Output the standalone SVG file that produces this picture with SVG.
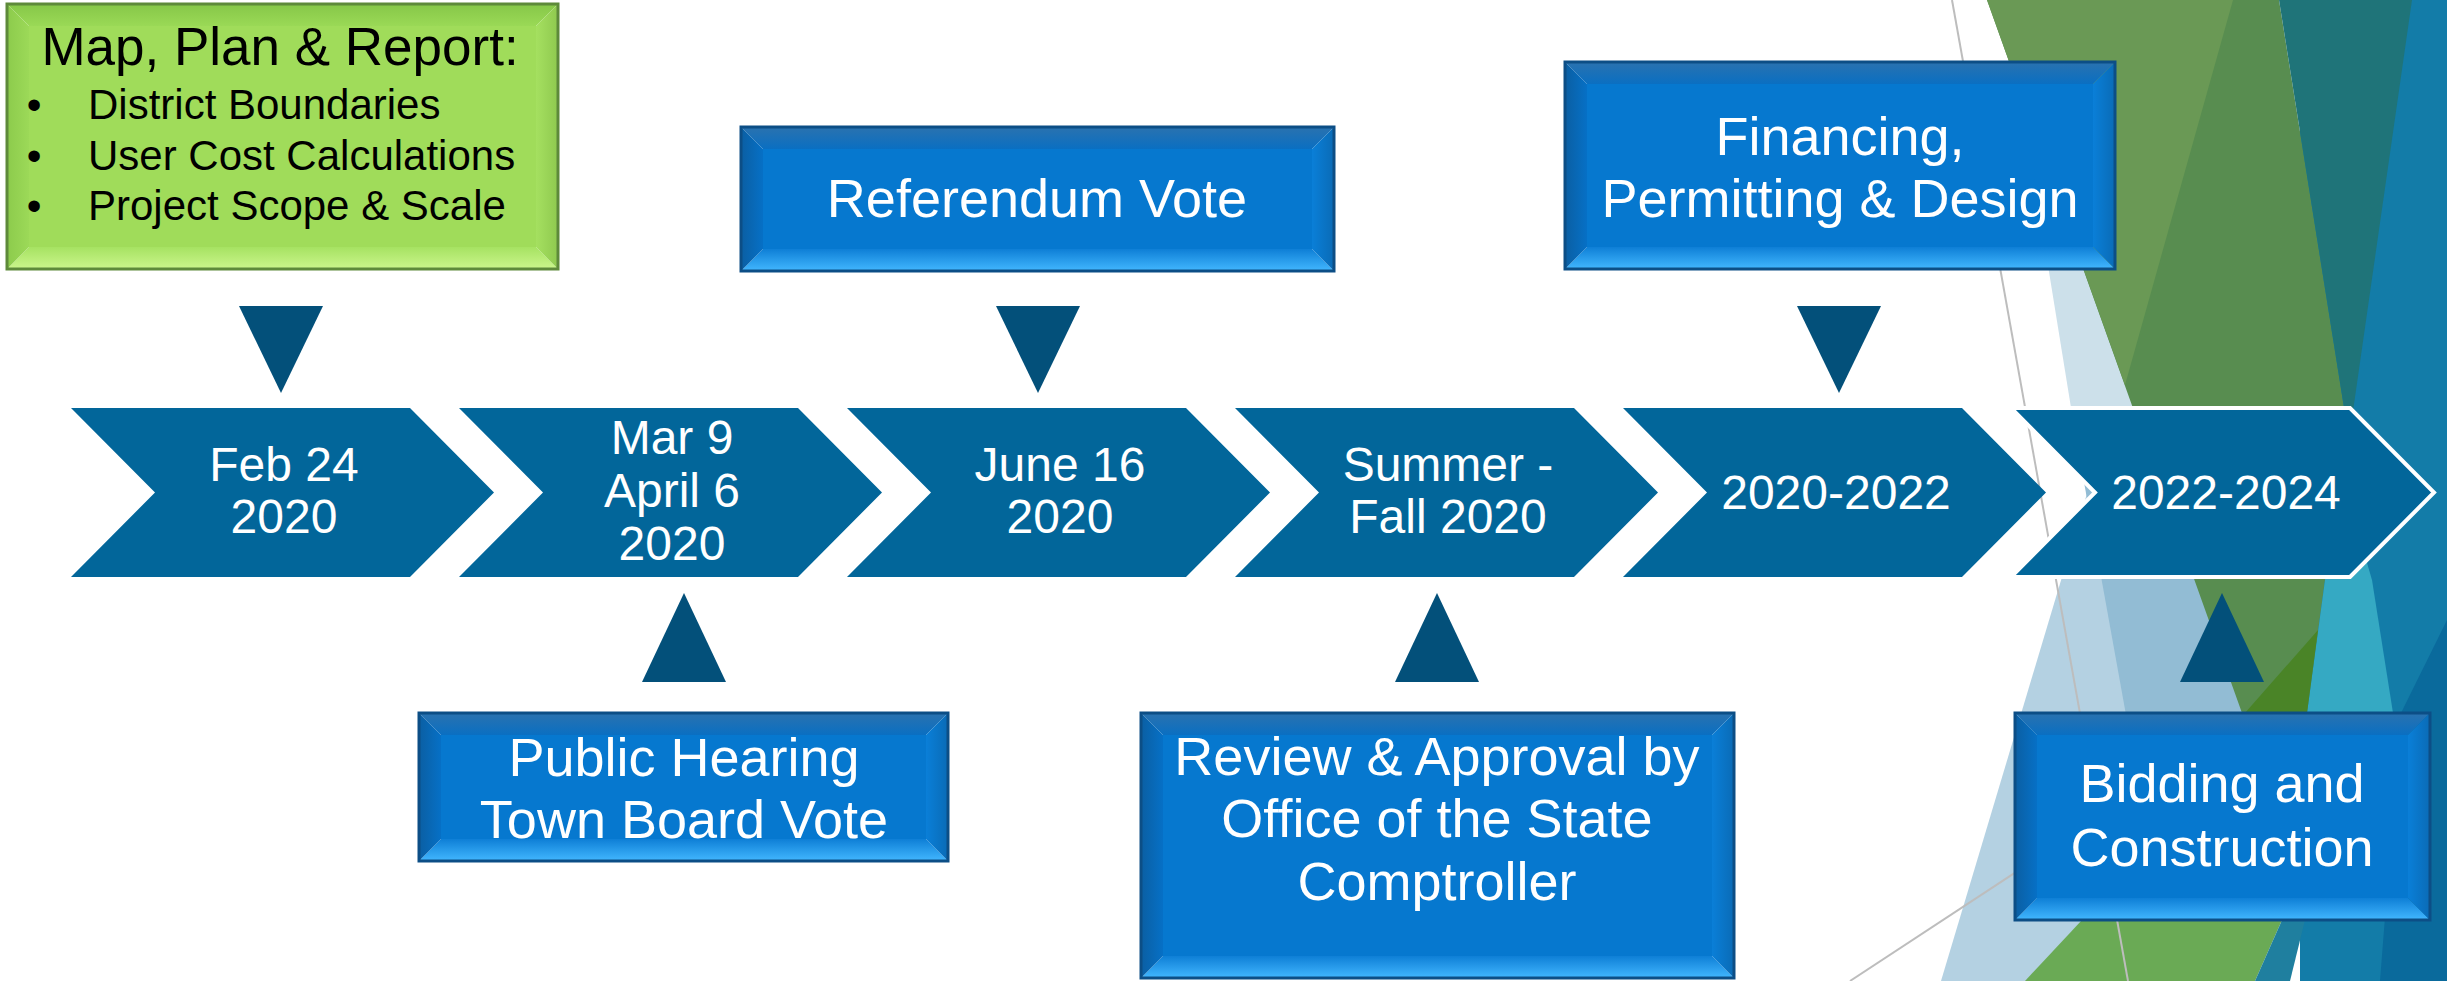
<svg xmlns="http://www.w3.org/2000/svg" width="2447" height="981" viewBox="0 0 2447 981">
<defs>
<style>
.chev{fill:#02669A}
.chev6{fill:#02669A;stroke:#ffffff;stroke-width:4;stroke-linejoin:miter}
.tri{fill:#03507A}
.ct{font-family:"Liberation Sans",Arial,sans-serif;font-size:48px;fill:#ffffff;text-anchor:middle}
.bt{font-family:"Liberation Sans",Arial,sans-serif;font-size:54px;fill:#ffffff;text-anchor:middle}
.gtitle{font-family:"Liberation Sans",Arial,sans-serif;font-size:53px;fill:#000000;text-anchor:middle}
.gitem{font-family:"Liberation Sans",Arial,sans-serif;font-size:42px;fill:#000000}
.gbul{font-family:"Liberation Sans",Arial,sans-serif;font-size:42px;fill:#000000;text-anchor:middle}
.bv-t{fill:url(#bt)}
.bv-b{fill:url(#bb)}
.bv-l{fill:url(#bl)}
.bv-r{fill:url(#br)}
.bx-i{fill:#0678CF}
.bx-s{fill:none;stroke:#0C4E86;stroke-width:3}
.gv-t{fill:url(#gt)}
.gv-b{fill:url(#gb)}
.gv-l{fill:url(#gl)}
.gv-r{fill:url(#gr)}
.gx-i{fill:#A0DC5A}
.gx-s{fill:none;stroke:#5E8A3A;stroke-width:3}
.gline{stroke:#BDBDBD;stroke-width:2;fill:none}
</style>
<linearGradient id="bt" x1="0" y1="0" x2="0" y2="1"><stop offset="0" stop-color="#2A72AF"/><stop offset="1" stop-color="#0A6FC2"/></linearGradient>
<linearGradient id="bb" x1="0" y1="0" x2="0" y2="1"><stop offset="0" stop-color="#0E7FD6"/><stop offset="1" stop-color="#42B7FF"/></linearGradient>
<linearGradient id="bl" x1="0" y1="0" x2="1" y2="0"><stop offset="0" stop-color="#0B5FA3"/><stop offset="1" stop-color="#0670C6"/></linearGradient>
<linearGradient id="br" x1="0" y1="0" x2="1" y2="0"><stop offset="0" stop-color="#0A7FD8"/><stop offset="1" stop-color="#0A6BB6"/></linearGradient>
<linearGradient id="gt" x1="0" y1="0" x2="0" y2="1"><stop offset="0" stop-color="#86C748"/><stop offset="1" stop-color="#9AD956"/></linearGradient>
<linearGradient id="gb" x1="0" y1="0" x2="0" y2="1"><stop offset="0" stop-color="#A6E262"/><stop offset="1" stop-color="#CBF68C"/></linearGradient>
<linearGradient id="gl" x1="0" y1="0" x2="1" y2="0"><stop offset="0" stop-color="#8CCB4C"/><stop offset="1" stop-color="#9CD958"/></linearGradient>
<linearGradient id="gr" x1="0" y1="0" x2="1" y2="0"><stop offset="0" stop-color="#A5E060"/><stop offset="1" stop-color="#8FC94F"/></linearGradient>
</defs>
<rect x="0" y="0" width="2447" height="981" fill="#ffffff"/>
<g id="background">
<rect x="2300" y="0" width="147" height="981" fill="#137CA8"/>
<polygon points="2005,0 2200,0 2200,420 2073,420" fill="#CCE0EA"/>
<polygon points="2112,410 2250,410 2250,981 1941,981" fill="#B4D1E2"/>
<polygon points="2071,410 2250,410 2250,981 2174,981" fill="#92BCD4"/>
<polygon points="1987,0 2279,0 2349,439 2325,580 2307,713 2242,713" fill="#588D50"/>
<polygon points="1987,0 2233,0 2125,385" fill="#6A9955"/>
<polygon points="2279,0 2412,0 2349,439" fill="#1F7479"/>
<polygon points="2340,470 2372,580 2393,713 2307,713 2325,580" fill="#35A9C3"/>
<polygon points="2318,630 2307,713 2245,713" fill="#4A8427"/>
<polygon points="2447,620 2447,981 2380,981 2401,713" fill="#0A6A9C"/>
<polygon points="2025,981 2082,920 2282,920 2255,981" fill="#6AAA55"/>
<polygon points="2255,981 2282,920 2305,920 2290,981" fill="#1F7F9F"/>
<line class="gline" x1="1952" y1="0" x2="2128" y2="981"/>
<line class="gline" x1="1850" y1="981" x2="2100" y2="817"/>
</g>
<g id="connectors">
<polygon class="tri" points="239,306 323,306 281,393"/>
<polygon class="tri" points="996,306 1080,306 1038,393"/>
<polygon class="tri" points="1797,306 1881,306 1839,393"/>
<polygon class="tri" points="642,682 726,682 684,593"/>
<polygon class="tri" points="1395,682 1479,682 1437,593"/>
<polygon class="tri" points="2180,682 2264,682 2222,593"/>
</g>
<g id="chevron-1">
<polygon class="chev" points="71,408 410,408 494,492.5 410,577 71,577 155,492.5"/>
<text class="ct" x="284" y="481">Feb 24</text>
<text class="ct" x="284" y="533">2020</text>
</g>
<g id="chevron-2">
<polygon class="chev" points="459,408 798,408 882,492.5 798,577 459,577 543,492.5"/>
<text class="ct" x="672" y="454">Mar 9</text>
<text class="ct" x="672" y="507">April 6</text>
<text class="ct" x="672" y="560">2020</text>
</g>
<g id="chevron-3">
<polygon class="chev" points="847,408 1186,408 1270,492.5 1186,577 847,577 931,492.5"/>
<text class="ct" x="1060" y="481">June 16</text>
<text class="ct" x="1060" y="533">2020</text>
</g>
<g id="chevron-4">
<polygon class="chev" points="1235,408 1574,408 1658,492.5 1574,577 1235,577 1319,492.5"/>
<text class="ct" x="1448" y="481">Summer -</text>
<text class="ct" x="1448" y="533">Fall 2020</text>
</g>
<g id="chevron-5">
<polygon class="chev" points="1623,408 1962,408 2046,492.5 1962,577 1623,577 1707,492.5"/>
<text class="ct" x="1836" y="509">2020-2022</text>
</g>
<g id="chevron-6">
<polygon class="chev6" points="2011,408 2350,408 2434,492.5 2350,577 2011,577 2095,492.5"/>
<text class="ct" x="2226" y="509">2022-2024</text>
</g>
<g id="box-map-plan-report">
<polygon class="gv-t" points="7,4 558,4 536,26 29,26"/>
<polygon class="gv-b" points="7,269 558,269 536,247 29,247"/>
<polygon class="gv-l" points="7,4 29,26 29,247 7,269"/>
<polygon class="gv-r" points="558,4 536,26 536,247 558,269"/>
<rect class="gx-i" x="29" y="26" width="507" height="221"/>
<rect class="gx-s" x="7" y="4" width="551" height="265"/>
<text class="gtitle" x="280" y="65">Map, Plan &amp; Report:</text>
<text class="gbul" x="34" y="119">•</text>
<text class="gitem" x="88" y="119">District Boundaries</text>
<text class="gbul" x="34" y="170">•</text>
<text class="gitem" x="88" y="170">User Cost Calculations</text>
<text class="gbul" x="34" y="220">•</text>
<text class="gitem" x="88" y="220">Project Scope &amp; Scale</text>
</g>
<g id="box-referendum">
<polygon class="bv-t" points="741,127 1334,127 1312,149 763,149"/>
<polygon class="bv-b" points="741,271 1334,271 1312,249 763,249"/>
<polygon class="bv-l" points="741,127 763,149 763,249 741,271"/>
<polygon class="bv-r" points="1334,127 1312,149 1312,249 1334,271"/>
<rect class="bx-i" x="763" y="149" width="549" height="100"/>
<rect class="bx-s" x="741" y="127" width="593" height="144"/>
<text class="bt" x="1037" y="217">Referendum Vote</text>
</g>
<g id="box-financing">
<polygon class="bv-t" points="1565,62 2115,62 2093,84 1587,84"/>
<polygon class="bv-b" points="1565,269 2115,269 2093,247 1587,247"/>
<polygon class="bv-l" points="1565,62 1587,84 1587,247 1565,269"/>
<polygon class="bv-r" points="2115,62 2093,84 2093,247 2115,269"/>
<rect class="bx-i" x="1587" y="84" width="506" height="163"/>
<rect class="bx-s" x="1565" y="62" width="550" height="207"/>
<text class="bt" x="1840" y="155">Financing,</text>
<text class="bt" x="1840" y="217">Permitting &amp; Design</text>
</g>
<g id="box-public-hearing">
<polygon class="bv-t" points="419,713 948,713 926,735 441,735"/>
<polygon class="bv-b" points="419,861 948,861 926,839 441,839"/>
<polygon class="bv-l" points="419,713 441,735 441,839 419,861"/>
<polygon class="bv-r" points="948,713 926,735 926,839 948,861"/>
<rect class="bx-i" x="441" y="735" width="485" height="104"/>
<rect class="bx-s" x="419" y="713" width="529" height="148"/>
<text class="bt" x="684" y="776">Public Hearing</text>
<text class="bt" x="684" y="838">Town Board Vote</text>
</g>
<g id="box-review">
<polygon class="bv-t" points="1141,713 1734,713 1712,735 1163,735"/>
<polygon class="bv-b" points="1141,978 1734,978 1712,956 1163,956"/>
<polygon class="bv-l" points="1141,713 1163,735 1163,956 1141,978"/>
<polygon class="bv-r" points="1734,713 1712,735 1712,956 1734,978"/>
<rect class="bx-i" x="1163" y="735" width="549" height="221"/>
<rect class="bx-s" x="1141" y="713" width="593" height="265"/>
<text class="bt" x="1437" y="775">Review &amp; Approval by</text>
<text class="bt" x="1437" y="837">Office of the State</text>
<text class="bt" x="1437" y="900">Comptroller</text>
</g>
<g id="box-bidding">
<polygon class="bv-t" points="2015,713 2430,713 2408,735 2037,735"/>
<polygon class="bv-b" points="2015,920 2430,920 2408,898 2037,898"/>
<polygon class="bv-l" points="2015,713 2037,735 2037,898 2015,920"/>
<polygon class="bv-r" points="2430,713 2408,735 2408,898 2430,920"/>
<rect class="bx-i" x="2037" y="735" width="371" height="163"/>
<rect class="bx-s" x="2015" y="713" width="415" height="207"/>
<text class="bt" x="2222" y="802">Bidding and</text>
<text class="bt" x="2222" y="866">Construction</text>
</g>
</svg>
